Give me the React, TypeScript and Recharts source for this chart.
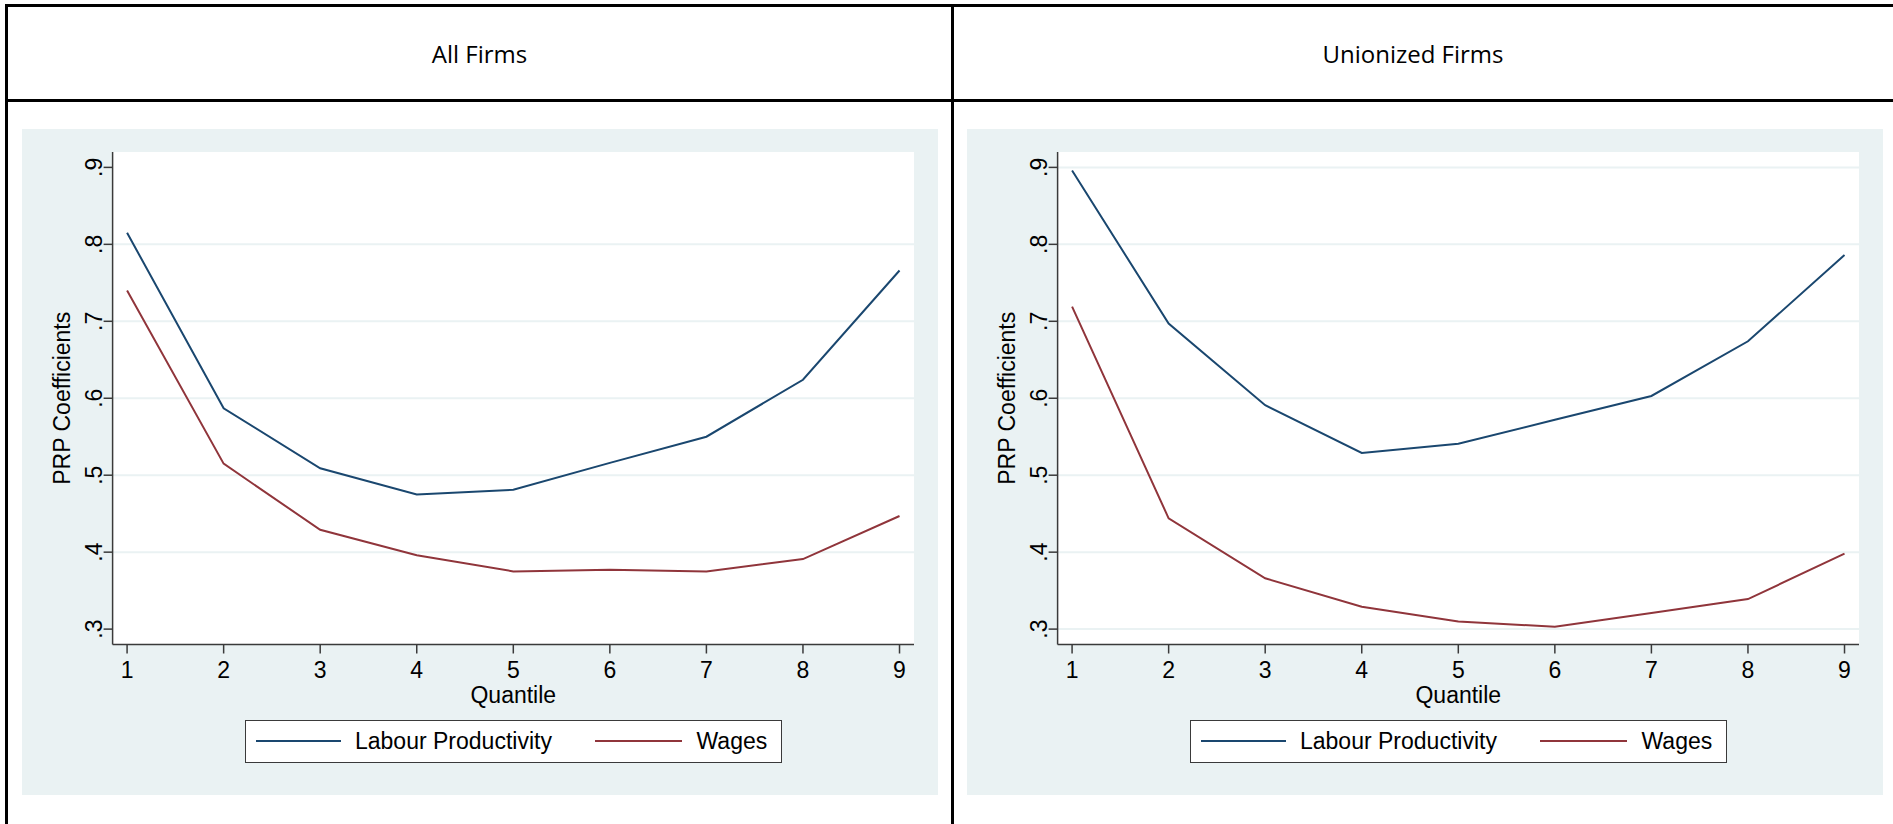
import React from 'react';
import { LineChart, Line, XAxis, YAxis, CartesianGrid, Legend } from 'recharts';

// values
const quantiles = [1, 2, 3, 4, 5, 6, 7, 8, 9];
const allLabour = [0.815, 0.587, 0.509, 0.475, 0.481, 0.516, 0.55, 0.624, 0.766];
const allWages = [0.74, 0.515, 0.429, 0.396, 0.375, 0.377, 0.375, 0.391, 0.447];
const unionLabour = [0.896, 0.697, 0.591, 0.529, 0.541, 0.572, 0.603, 0.674, 0.786];
const unionWages = [0.719, 0.444, 0.366, 0.329, 0.31, 0.303, 0.321, 0.339, 0.398];

const yTicks = [0.3, 0.4, 0.5, 0.6, 0.7, 0.8, 0.9];
const allGrid = [0.4, 0.5, 0.6, 0.7, 0.8];
const unionGrid = [0.3, 0.4, 0.5, 0.6, 0.7, 0.8, 0.9];
const seriesNames = ['Labour Productivity', 'Wages'];
const panelTitles = ['All Firms', 'Unionized Firms'];

const BLUE = '#1a476f';
const RED = '#90353b';
const BG = '#eaf2f3';
const AXIS = '#3a3a3a';
const FONT = '"Liberation Sans", Arial, Helvetica, sans-serif';

const W = 916;
const H = 666;
const M = { top: 23, right: 24, left: 0, bottom: 32 };
const Y_W = 90.6;
const X_H = 75.5;
const LEG_H = 43;
const PLOT_H = H - M.top - M.bottom - X_H - LEG_H;

const fmtY = (v: number) => v.toFixed(1).replace(/^0/, '');

const YTick = (props: any) => {
  const { x, y, payload } = props;
  const bx = x - 1.5;
  return (
    <text
      x={bx}
      y={y}
      transform={`rotate(-90 ${bx} ${y})`}
      textAnchor="middle"
      fontSize={23}
      fontFamily={FONT}
      fill="#000"
    >
      {fmtY(payload.value)}
    </text>
  );
};

const YTitle = () => {
  const x = 39.5;
  const y = M.top + PLOT_H / 2;
  return (
    <text
      x={x}
      y={y}
      transform={`rotate(-90 ${x} ${y})`}
      textAnchor="middle"
      dominantBaseline="central"
      fontSize={23}
      fontFamily={FONT}
      fill="#000"
    >
      PRP Coefficients
    </text>
  );
};

const XTitle = () => (
  <text
    x={(Y_W + W - M.right) / 2}
    y={M.top + PLOT_H + 50.5}
    textAnchor="middle"
    dominantBaseline="central"
    fontSize={23}
    fontFamily={FONT}
    fill="#000"
  >
    Quantile
  </text>
);

const StataLegend = () => {
  const text: React.CSSProperties = {
    position: 'absolute',
    top: 0,
    height: LEG_H - 3,
    lineHeight: `${LEG_H - 3}px`,
    fontSize: 23,
    fontFamily: FONT,
    color: '#000',
    whiteSpace: 'nowrap',
  };
  const swatch = (left: number, width: number, color: string): React.CSSProperties => ({
    position: 'absolute',
    left,
    width,
    top: (LEG_H - 3) / 2 - 1,
    height: 2,
    background: color,
  });
  return (
    <div style={{ position: 'relative', height: LEG_H }}>
      <div
        style={{
          position: 'absolute',
          left: 222.5,
          top: 0,
          width: 537,
          height: LEG_H,
          boxSizing: 'border-box',
          border: `1.5px solid ${AXIS}`,
          background: '#fff',
        }}
      >
        <div style={swatch(10, 85.5, BLUE)} />
        <div style={{ ...text, left: 109.5 }}>{seriesNames[0]}</div>
        <div style={swatch(349.5, 87, RED)} />
        <div style={{ ...text, left: 451 }}>{seriesNames[1]}</div>
      </div>
    </div>
  );
};

function Panel({ left, labour, wages, grid }: { left: number; labour: number[]; wages: number[]; grid: number[] }) {
  const data = quantiles.map((q, i) => ({ q, labour: labour[i], wages: wages[i] }));
  return (
    <div style={{ position: 'absolute', left, top: 129, width: W, height: H, background: BG }}>
      <LineChart width={W} height={H} data={data} margin={M}>
        <CartesianGrid fill="#fff" vertical={false} horizontalValues={grid} stroke={BG} strokeWidth={2} />
        <XAxis
          dataKey="q"
          type="number"
          domain={[0.85, 9.15]}
          ticks={quantiles}
          allowDataOverflow
          height={X_H}
          tickSize={9}
          tickMargin={8.5}
          axisLine={{ stroke: AXIS, strokeWidth: 1.5 }}
          tickLine={{ stroke: AXIS, strokeWidth: 1.5 }}
          tick={{ fontSize: 23, fill: '#000', fontFamily: FONT }}
          label={<XTitle />}
        />
        <YAxis
          type="number"
          domain={[0.28, 0.92]}
          ticks={yTicks}
          allowDataOverflow
          width={Y_W}
          tickSize={9}
          tickMargin={0}
          axisLine={{ stroke: AXIS, strokeWidth: 1.5 }}
          tickLine={{ stroke: AXIS, strokeWidth: 1.5 }}
          tick={<YTick />}
          label={<YTitle />}
        />
        <Legend verticalAlign="bottom" content={<StataLegend />} />
        <Line
          type="linear"
          dataKey="labour"
          name={seriesNames[0]}
          stroke={BLUE}
          strokeWidth={2}
          dot={false}
          isAnimationActive={false}
        />
        <Line
          type="linear"
          dataKey="wages"
          name={seriesNames[1]}
          stroke={RED}
          strokeWidth={2}
          dot={false}
          isAnimationActive={false}
        />
      </LineChart>
    </div>
  );
}

const line = (s: React.CSSProperties): React.CSSProperties => ({ position: 'absolute', background: '#000', ...s });

const header: React.CSSProperties = {
  position: 'absolute',
  top: 7,
  height: 92,
  display: 'flex',
  alignItems: 'center',
  justifyContent: 'center',
  fontFamily: '"Open Sans", "Noto Sans", sans-serif',
  fontSize: 24,
  color: '#000',
};

export default function App() {
  return (
    <div style={{ position: 'absolute', left: 0, top: 0, width: 1893, height: 824, background: '#fff', overflow: 'hidden' }}>
      <div style={{ ...header, left: 8, width: 943 }}>{panelTitles[0]}</div>
      <div style={{ ...header, left: 954, width: 918 }}>{panelTitles[1]}</div>
      <Panel left={22} labour={allLabour} wages={allWages} grid={allGrid} />
      <Panel left={967} labour={unionLabour} wages={unionWages} grid={unionGrid} />
      <div style={line({ left: 5, top: 4, width: 1888, height: 3 })} />
      <div style={line({ left: 5, top: 99, width: 1888, height: 3 })} />
      <div style={line({ left: 5, top: 4, width: 3, height: 820 })} />
      <div style={line({ left: 951, top: 4, width: 3, height: 820 })} />
    </div>
  );
}
